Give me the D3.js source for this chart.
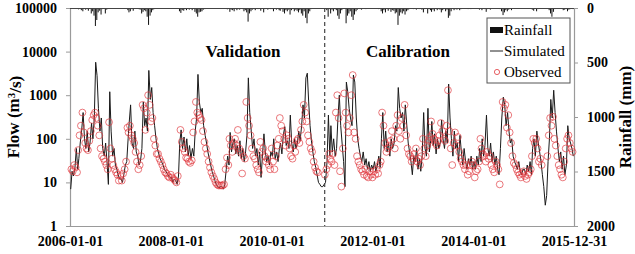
<!DOCTYPE html>
<html>
<head>
<meta charset="utf-8">
<script src="https://cdn.jsdelivr.net/npm/d3@7"></script>
<style>
  body { margin: 0; background: #fff; }
  svg { display: block; }
  text { font-family: "Liberation Serif", "Times New Roman", Times, "DejaVu Serif", serif; }
</style>
</head>
<body>
<svg id="chart"></svg>
<script>
// flow / rainfall series, 3 values per month (early, mid, late), 2006..2015
const years = [2006, 2007, 2008, 2009, 2010, 2011, 2012, 2013, 2014, 2015];

const simulated = [
  7, 18, 14, 22, 60, 20, 35, 80, 150, 400, 100, 60, 150, 50, 80, 230, 100, 300, 5700, 2800, 500, 150, 300, 60, 40, 80, 30, 9, 1200, 150, 40, 60, 25, 20, 15, 12,
  12, 10, 15, 25, 30, 100, 240, 600, 80, 60, 150, 50, 40, 25, 30, 60, 700, 200, 300, 150, 3700, 800, 1500, 400, 200, 100, 60, 45, 35, 30, 25, 20, 18, 16, 14, 13,
  13, 10, 12, 11, 9, 14, 80, 160, 60, 110, 50, 100, 40, 70, 35, 60, 40, 150, 300, 3000, 700, 400, 500, 200, 120, 80, 50, 35, 25, 18, 14, 11, 9, 8, 7.5, 8,
  8, 7, 9, 20, 40, 25, 140, 50, 80, 100, 45, 70, 40, 90, 35, 60, 30, 50, 120, 2500, 400, 150, 60, 100, 40, 60, 25, 50, 13, 40, 130, 50, 30, 40, 25, 50,
  40, 100, 35, 50, 30, 60, 80, 45, 120, 190, 70, 90, 60, 350, 80, 50, 100, 60, 80, 150, 90, 200, 600, 300, 2500, 3200, 700, 200, 90, 50, 30, 22, 15, 10, 9, 8,
  8, 9, 10, 30, 350, 40, 200, 50, 100, 40, 60, 300, 1000, 200, 80, 30, 8, 2000, 1200, 500, 300, 200, 2900, 2000, 300, 100, 60, 40, 30, 50, 25, 35, 20, 30, 18, 25,
  20, 30, 18, 25, 40, 22, 100, 400, 60, 150, 50, 80, 40, 100, 60, 80, 200, 150, 1500, 500, 300, 400, 150, 600, 200, 80, 50, 30, 15, 40, 30, 60, 20, 35, 18, 40,
  400, 60, 40, 500, 50, 90, 250, 70, 130, 45, 100, 60, 80, 270, 100, 60, 150, 80, 1800, 300, 100, 40, 150, 60, 80, 30, 120, 50, 25, 60, 30, 20, 35, 25, 40, 20,
  30, 20, 40, 25, 60, 30, 100, 40, 70, 350, 60, 40, 80, 30, 50, 25, 40, 20, 15, 60, 300, 900, 600, 200, 400, 150, 80, 100, 40, 30, 25, 20, 30, 18, 15, 20,
  20, 15, 25, 18, 30, 15, 60, 100, 40, 150, 80, 50, 30, 15, 8, 3, 5, 30, 100, 800, 300, 1300, 400, 150, 60, 30, 50, 20, 40, 15, 25, 200, 100, 80, 60, 40
];

const observed = [
  null, 20, 18, 25, 22, 17, 55, 120, 200, 400, 140, 80, 60, 55, 90, 150, 270, 350, 400, 300, 200, 120, 60, 40, 35, 30, 25, 20, 240, 60, 35, 25, 20, 17, 15, 11,
  14, 11, 16, 20, 30, 180, 140, 200, 120, 100, 80, 50, 30, 20, 25, 40, 600, 500, 160, 400, 1000, 600, 250, 300, 100, 70, 45, 45, 35, 30, 25, 20, 17, 16, 14, 13,
  15, 13, 12, 11, 10, 14, null, 160, 85, 60, 50, 37, 35, 30, 28, 32, 140, 250, 700, 400, 350, 300, 270, 150, 85, 60, 45, 30, 22, 17, 14, 12, 10, 9, 8.5, 8.5,
  8.5, 8.5, 9, 20, 37, 25, 100, 70, 50, 80, 100, 70, 160, 60, 50, 16, 40, 35, 700, 300, 200, 120, 60, 40, 35, 25, 20, 17, 85, 50, 60, 40, 30, 35, 25, 20,
  60, 30, 20, 40, 70, 100, 300, 200, 150, 100, 70, 120, 100, 60, 40, 35, 70, 50, 90, 100, 80, 160, 250, 600, 400, 250, 120, 85, 60, 50, 30, 22, 18, 17, null, null,
  null, null, 15, 20, 25, 45, 35, 30, 45, 25, 400, 1000, 300, 18, 8, 60, 1100, 400, 200, 140, 300, 1000, 2900, 140, 100, 40, 30, 25, 20, 18, 15, 20, 14, 13, 18, 15,
  13, 18, 15, 20, 16, 25, 30, 400, 200, 80, 50, 60, 70, 90, 150, 100, 60, 200, 350, 150, 100, 300, 200, 600, 120, 60, 45, 40, 30, 35, 45, 60, 30, 35, 25, 40,
  100, 60, 40, 70, 90, 110, 250, 130, 100, 80, 70, 90, 120, 230, 150, 100, 90, 200, 1300, 150, 60, 25, 80, 140, 70, 110, 50, 35, 30, 25, 20, 25, 15, 18, 25, 30,
  25, 13, 18, 20, 30, 100, 60, 45, 40, 30, 50, 35, 40, 25, 20, 17, 30, 25, 20, 9, null, 700, 500, 600, 180, 350, 140, 80, 40, 28, 25, 20, 17, 15, 13, 16,
  18, 14, 12, 15, 17, 20, 40, 100, 80, 100, 60, 30, 35, 25, null, null, null, 40, 120, 300, 200, 320, 100, 70, 40, 25, 20, 15, 13, 30, 60, 100, 120, 80, 60, 50
];

const rainfall = [
  3, 6, 2, 5, 8, 3, 12, 6, 20, 30, 8, 15, 10, 25, 8, 50, 30, 70, 165, 110, 40, 25, 60, 10, 8, 50, 15, 5, 4, 8, 3, 5, 2, 3, 4, 2,
  3, 2, 4, 5, 8, 20, 40, 30, 10, 25, 8, 5, 6, 10, 15, 50, 35, 20, 30, 80, 155, 70, 40, 20, 10, 8, 5, 6, 4, 3, 5, 3, 2, 4, 3, 2,
  3, 2, 3, 4, 2, 5, 30, 45, 20, 25, 10, 20, 8, 15, 5, 20, 8, 35, 50, 80, 40, 35, 30, 15, 10, 8, 5, 4, 3, 2, 3, 2, 1, 3, 2, 2,
  2, 3, 2, 8, 12, 5, 35, 15, 20, 30, 8, 20, 10, 15, 5, 10, 30, 20, 40, 125, 50, 30, 15, 10, 20, 5, 10, 8, 25, 6, 40, 10, 5, 15, 8, 10,
  10, 30, 8, 15, 5, 20, 25, 10, 35, 50, 20, 30, 15, 60, 20, 10, 30, 15, 25, 40, 20, 50, 70, 30, 90, 140, 50, 30, 10, 8, 5, 4, 3, 2, 2, 3,
  2, 3, 5, 20, 80, 10, 50, 15, 30, 10, 20, 70, 100, 50, 20, 8, 3, 140, 70, 50, 30, 80, 110, 60, 30, 15, 8, 10, 15, 5, 8, 10, 5, 8, 5, 6,
  5, 8, 4, 6, 10, 5, 30, 50, 20, 40, 10, 25, 10, 35, 20, 25, 50, 40, 155, 70, 40, 50, 30, 60, 30, 20, 10, 8, 5, 10, 8, 15, 5, 10, 5, 15,
  40, 10, 8, 50, 10, 20, 35, 15, 30, 8, 20, 10, 15, 40, 20, 10, 30, 15, 90, 70, 30, 8, 20, 10, 15, 8, 20, 10, 8, 5, 8, 5, 10, 6, 10, 5,
  8, 4, 6, 5, 15, 8, 20, 8, 10, 35, 10, 8, 15, 5, 8, 4, 8, 5, 4, 10, 30, 65, 40, 20, 30, 15, 8, 20, 6, 5, 4, 8, 3, 3, 5, 4,
  5, 3, 6, 4, 8, 3, 15, 25, 8, 30, 10, 8, 5, 3, 2, 2, 3, 8, 20, 50, 80, 35, 10, 8, 5, 8, 4, 5, 20, 15, 10, 30, 15, 10, 8, 10
];

const xTickLabels = ["2006-01-01", "2008-01-01", "2010-01-01", "2012-01-01", "2014-01-01", "2015-12-31"];
const flowTicks = [1, 10, 100, 1000, 10000, 100000];
const rainTicks = [0, 500, 1000, 1500, 2000];
const splitDate = "2011-01-20";

const parse = d3.timeParse("%Y-%m-%d");

// date of the k-th value: month slot (early/mid/late) + day offset within the slot
function slotDate(k, dayOffset) {
  const yr = years[Math.floor(k / 36)];
  const j = k % 36;
  return new Date(yr, Math.floor(j / 3), 1 + (j % 3) * 10 + dayOffset);
}

const simData = simulated.map((v, k) => ({ date: slotDate(k, 5), v }));
const obsData = observed.map((v, k) => ({ date: slotDate(k, 0), v })).filter(d => d.v != null);
const rainData = rainfall.map((v, k) => ({ date: slotDate(k, 3), v }));

const W = 635, H = 254;
const margin = { top: 8, right: 61, bottom: 28, left: 70 };
const width = W - margin.left - margin.right;
const height = H - margin.top - margin.bottom;

const svg = d3.select('#chart').attr('width', W).attr('height', H);
const g = svg.append('g').attr('transform', `translate(${margin.left},${margin.top})`);

const x = d3.scaleTime()
  .domain([parse("2006-01-01"), parse("2015-12-31")])
  .range([0, width]);
const y = d3.scaleLog().domain([1, 100000]).range([height, 0]);
const yR = d3.scaleLinear().domain([0, 2000]).range([0, height]);

const axisColor = '#9a9a9a';
const serif = '"Liberation Serif", "Times New Roman", Times, "DejaVu Serif", serif';

// left axis
const yAxis = g.append('g')
  .call(d3.axisLeft(y).tickValues(flowTicks).tickFormat(d3.format('d')).tickSize(4).tickPadding(9));
// right axis
const yRAxis = g.append('g')
  .attr('transform', `translate(${width},0)`)
  .call(d3.axisRight(yR).tickValues(rainTicks).tickFormat(d3.format('d')).tickSize(4).tickPadding(9));
// bottom axis
const xAxis = g.append('g')
  .attr('transform', `translate(0,${height})`)
  .call(d3.axisBottom(x).tickValues(xTickLabels.map(parse)).tickFormat(d3.timeFormat('%Y-%m-%d')).tickSize(0).tickPadding(12));

[yAxis, yRAxis, xAxis].forEach(a => {
  a.attr('font-family', null);
  a.select('.domain').attr('stroke', axisColor).attr('stroke-width', 1.2);
  a.selectAll('.tick line').attr('stroke', axisColor);
  a.selectAll('.tick text')
    .attr('fill', '#000')
    .style('font-family', serif)
    .style('font-weight', 'bold')
    .style('font-size', '14px');
});
xAxis.selectAll('.tick text').attr('dy', '0.6em');

// rainfall bars hanging from the top
g.append('g').selectAll('rect')
  .data(rainData)
  .join('rect')
  .attr('x', d => x(d.date) - 0.5)
  .attr('y', 0)
  .attr('width', 1)
  .attr('height', d => yR(d.v))
  .attr('fill', '#111');

g.append('line')
  .attr('x1', 0).attr('x2', width).attr('y1', 0.5).attr('y2', 0.5)
  .attr('stroke', '#444').attr('stroke-width', 1);

// simulated flow
const line = d3.line().x(d => x(d.date)).y(d => y(d.v));
g.append('path')
  .datum(simData)
  .attr('d', line)
  .attr('fill', 'none')
  .attr('stroke', '#1a1a1a')
  .attr('stroke-width', 1);

// observed flow
g.append('g').selectAll('circle')
  .data(obsData)
  .join('circle')
  .attr('cx', d => x(d.date))
  .attr('cy', d => y(d.v))
  .attr('r', 3.4)
  .attr('fill', 'none')
  .attr('stroke', '#e0393e')
  .attr('stroke-opacity', 0.85)
  .attr('stroke-width', 0.8);

// validation / calibration split
g.append('line')
  .attr('x1', x(parse(splitDate))).attr('x2', x(parse(splitDate)))
  .attr('y1', 0).attr('y2', height)
  .attr('stroke', '#444')
  .attr('stroke-width', 1.2)
  .attr('stroke-dasharray', '4,3');

g.append('text')
  .attr('x', 173).attr('y', 49)
  .attr('text-anchor', 'middle')
  .style('font-family', serif)
  .style('font-weight', 'bold').style('font-size', '17px')
  .text('Validation');
g.append('text')
  .attr('x', 338).attr('y', 49)
  .attr('text-anchor', 'middle')
  .style('font-family', serif)
  .style('font-weight', 'bold').style('font-size', '17px')
  .text('Calibration');

// axis titles
const leftTitle = svg.append('text')
  .attr('transform', `translate(19,${margin.top + height / 2}) rotate(-90)`)
  .attr('text-anchor', 'middle')
  .style('font-family', serif)
  .style('font-weight', 'bold').style('font-size', '17px');
leftTitle.append('tspan').text('Flow (m');
leftTitle.append('tspan').attr('dy', '-0.4em').style('font-size', '11px').text('3');
leftTitle.append('tspan').attr('dy', '0.4em').text('/s)');

svg.append('text')
  .attr('transform', `translate(631,${margin.top + height / 2}) rotate(-90)`)
  .attr('text-anchor', 'middle')
  .style('font-family', serif)
  .style('font-weight', 'bold').style('font-size', '17px')
  .text('Rainfall (mm)');

// legend
const legend = g.append('g').attr('transform', 'translate(417,10)');
legend.append('rect')
  .attr('width', 83).attr('height', 65)
  .attr('fill', '#fff')
  .attr('stroke', '#555').attr('stroke-width', 1);
const legendItems = ['Rainfall', 'Simulated', 'Observed'];
legendItems.forEach((name, i) => {
  const cy = 12 + i * 21;
  const item = legend.append('g').attr('transform', `translate(0,${cy})`);
  if (name === 'Rainfall') {
    item.append('rect').attr('x', 3).attr('y', -3).attr('width', 13).attr('height', 6).attr('fill', '#111');
  } else if (name === 'Simulated') {
    item.append('line').attr('x1', 3).attr('x2', 16).attr('y1', 0).attr('y2', 0).attr('stroke', '#222').attr('stroke-width', 1);
  } else {
    item.append('circle').attr('cx', 10).attr('cy', 0).attr('r', 2.6).attr('fill', 'none').attr('stroke', '#e0393e').attr('stroke-width', 0.8);
  }
  item.append('text')
    .attr('x', 17).attr('y', 5)
    .style('font-family', serif)
    .style('font-size', '15px')
    .text(name);
});
</script>
</body>
</html>
